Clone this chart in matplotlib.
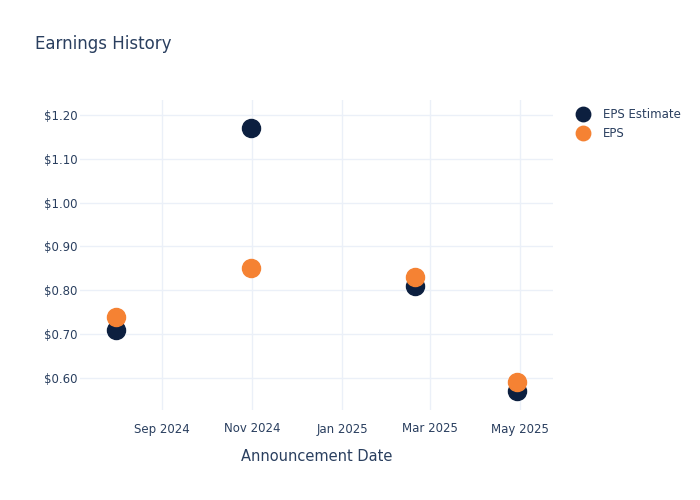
import numpy as np
import pandas as pd
import matplotlib
matplotlib.use('Agg')
import matplotlib.pyplot as plt
import matplotlib.dates as mdates
from matplotlib.ticker import FuncFormatter

# data
dates = ['2024-08-01', '2024-10-31', '2025-02-19', '2025-04-29']
eps_estimate = [0.71, 1.17, 0.81, 0.57]
eps_actual = [0.74, 0.85, 0.83, 0.59]

text_color = '#2a3f5f'
grid_color = '#ebf0f8'
navy = '#0c1f3f'
orange = '#f58233'

plt.rcParams['font.family'] = ['DejaVu Sans']

x = pd.to_datetime(dates)

fig = plt.figure(figsize=(7, 5), dpi=100)
ax = fig.add_axes([80/700, 90/500, (553-80)/700, (410-100)/500])

ax.plot(x, eps_estimate, 'o', ms=13, color=navy, label='EPS Estimate', zorder=3)
ax.plot(x, eps_actual, 'o', ms=13, color=orange, label='EPS', zorder=4)

ax.set_xlim(pd.Timestamp('2024-07-07 12:00'), pd.Timestamp('2025-05-23 12:00'))
ax.set_ylim(0.527, 1.234)
ax.set_yticks(np.arange(0.6, 1.21, 0.1))
ax.yaxis.set_major_formatter(FuncFormatter(lambda v, p: '$%.2f' % v))
ax.xaxis.set_major_locator(mdates.MonthLocator(bymonth=[1, 3, 5, 7, 9, 11]))
ax.xaxis.set_major_formatter(mdates.DateFormatter('%b %Y'))

ax.grid(True, color=grid_color, linewidth=1)
ax.set_axisbelow(True)
for s in ax.spines.values():
    s.set_visible(False)
ax.tick_params(length=0, colors=text_color, labelsize=8.5)
ax.tick_params(axis='y', pad=2)
ax.tick_params(axis='x', pad=9)

ax.set_xlabel('Announcement Date', color=text_color, fontsize=10.5, labelpad=10)
fig.text(35/700, 1 - 44/500, 'Earnings History', color=text_color, fontsize=12, va='center')

leg = ax.legend(loc='upper left', bbox_to_anchor=(1.02, 1.0), frameon=False,
                fontsize=8.5, markerscale=0.8, handletextpad=0.7, labelspacing=0.5,
                borderaxespad=0.3)
for t in leg.get_texts():
    t.set_color(text_color)

fig.savefig('out.png', dpi=100)
